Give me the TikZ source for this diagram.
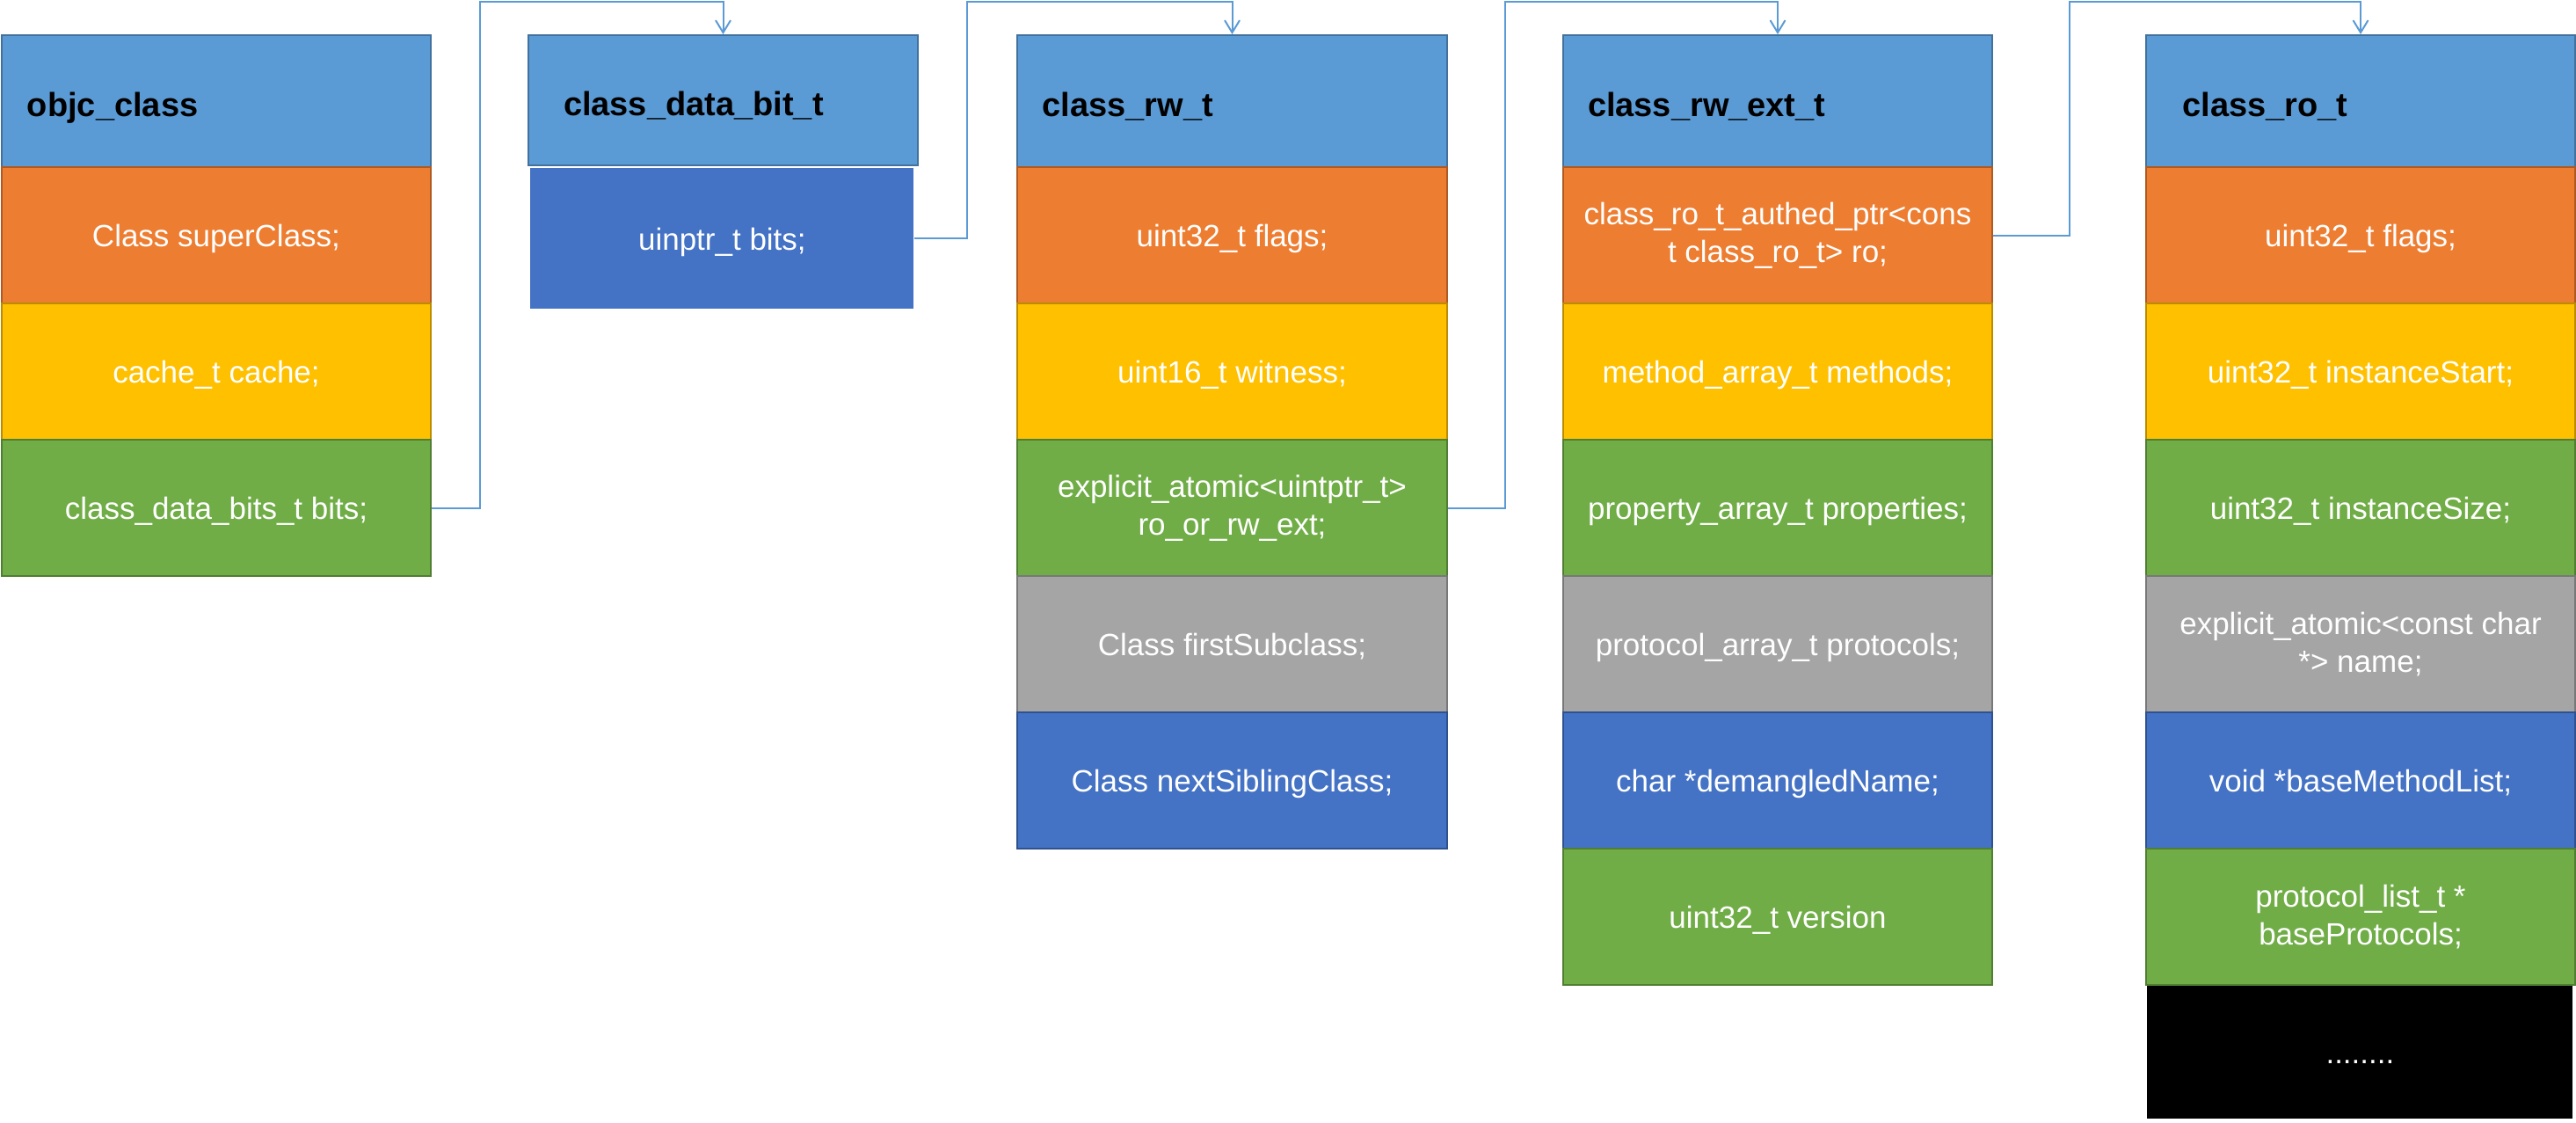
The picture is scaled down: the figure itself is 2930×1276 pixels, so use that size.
\documentclass[tikz,border=0pt]{standalone}
\usepackage{fontspec}
\setmainfont{Liberation Sans}
\usetikzlibrary{arrows.meta}
\definecolor{hdr}{HTML}{5B9BD5}
\definecolor{hdrB}{HTML}{41719C}
\definecolor{corg}{HTML}{ED7D31}
\definecolor{corgB}{HTML}{AE5A21}
\definecolor{cyel}{HTML}{FFC000}
\definecolor{cyelB}{HTML}{BC8C00}
\definecolor{cgrn}{HTML}{70AD47}
\definecolor{cgrnB}{HTML}{507E32}
\definecolor{cgry}{HTML}{A5A5A5}
\definecolor{cgryB}{HTML}{787878}
\definecolor{cblu}{HTML}{4472C4}
\definecolor{cbluB}{HTML}{2F528F}
\definecolor{lnc}{HTML}{5B9BD5}
\newcommand{\bodyfnt}{\fontsize{17.5}{21.5}\selectfont}
\tikzset{
  cellbox/.style={anchor=north west, inner sep=0pt, line width=1pt, text=white,
    font=\bodyfnt, align=center, minimum height=77.5pt},
  sl/.style={text height=14pt, text depth=1.4pt},
  hdrbox/.style={anchor=north west, inner ysep=0pt, line width=1pt, fill=hdr, draw=hdrB,
    text=black, font=\fontsize{19}{22}\selectfont\bfseries, align=left,
    minimum height=75pt, text height=17pt, text depth=0pt},
  org/.style={cellbox, fill=corg, draw=corgB},
  yel/.style={cellbox, fill=cyel, draw=cyelB},
  grn/.style={cellbox, fill=cgrn, draw=cgrnB},
  gry/.style={cellbox, fill=cgry, draw=cgryB},
  blu/.style={cellbox, fill=cblu, draw=cbluB},
  conn/.style={draw=lnc, line width=1pt, -{Straight Barb[length=7pt,width=8.5pt]}}
}
\begin{document}
\begin{tikzpicture}[x=0.5pt,y=-0.5pt]
\useasboundingbox (0,0) rectangle (2930,1276);
\coordinate (top) at (0,2);

% column 1
\begin{scope}[every node/.append style={minimum width=244pt}]
\node[hdrbox, minimum width=0pt, inner xsep=14.5pt, text width=215pt] (h1) at (1,39) {objc\_class};
\node[org, sl] (c1o) at (1,189) {Class superClass;};
\node[yel, sl] (c1y) at (1,344) {cache\_t cache;};
\node[grn, sl] (c1g) at (1,499) {class\_data\_bits\_t bits;};
\end{scope}

% column 2
\node[hdrbox, inner xsep=20pt, text width=181.5pt, minimum height=74pt] (h2) at (600,39) {class\_data\_bit\_t};
\node[anchor=north west, inner sep=0pt, fill=cblu, text=white, font=\bodyfnt, sl,
  minimum width=218pt, minimum height=80pt] (c2b) at (603,191) {uinptr\_t bits;};

% column 3
\begin{scope}[every node/.append style={minimum width=244.5pt}]
\node[hdrbox, minimum width=0pt, inner xsep=14.25pt, text width=216pt] (h3) at (1156,39) {class\_rw\_t};
\node[org, sl] (c3o) at (1156,189) {uint32\_t flags;};
\node[yel, sl] (c3y) at (1156,344) {uint16\_t witness;};
\node[grn] (c3g) at (1156,499) {explicit\_atomic<uintptr\_t>\\ro\_or\_rw\_ext;};
\node[gry, sl] (c3r) at (1156,654) {Class firstSubclass;};
\node[blu, sl] (c3b) at (1156,809) {Class nextSiblingClass;};
\end{scope}

% column 4
\begin{scope}[every node/.append style={minimum width=244pt}]
\node[hdrbox, minimum width=0pt, inner xsep=14pt, text width=216pt] (h4) at (1777,39) {class\_rw\_ext\_t};
\node[org] (c4o) at (1777,189) {class\_ro\_t\_authed\_ptr<cons\\t class\_ro\_t> ro;};
\node[yel, sl] (c4y) at (1777,344) {method\_array\_t methods;};
\node[grn, sl] (c4g) at (1777,499) {property\_array\_t properties;};
\node[gry, sl] (c4r) at (1777,654) {protocol\_array\_t protocols;};
\node[blu, sl] (c4b) at (1777,809) {char *demangledName;};
\node[grn, sl] (c4v) at (1777,964) {uint32\_t version};
\end{scope}

% column 5
\begin{scope}[every node/.append style={minimum width=244pt}]
\node[hdrbox, minimum width=0pt, inner xsep=20.75pt, text width=202.5pt] (h5) at (2440,39) {class\_ro\_t};
\node[org, sl] (c5o) at (2440,189) {uint32\_t flags;};
\node[yel, sl] (c5y) at (2440,344) {uint32\_t instanceStart;};
\node[grn, sl] (c5g) at (2440,499) {uint32\_t instanceSize;};
\node[gry] (c5r) at (2440,654) {explicit\_atomic<const char\\*> name;};
\node[blu, sl] (c5b) at (2440,809) {void *baseMethodList;};
\node[grn] (c5v) at (2440,964) {protocol\_list\_t *\\baseProtocols;};
\end{scope}
\node[anchor=north west, inner sep=0pt, fill=black, text=white, font=\bodyfnt, sl,
  minimum width=242pt, minimum height=75.5pt] (c5k) at (2442,1121) {........};

% connectors
\draw[conn] (c1g.east) -- ++(55,0) |- (top -| h2.north) -- (h2.north);
\draw[conn] (c2b.east) -- ++(60,0) |- (top -| h3.north) -- (h3.north);
\draw[conn] (c3g.east) -- ++(65,0) |- (top -| h4.north) -- (h4.north);
\draw[conn] (c4o.east) -- ++(87,0) |- (top -| h5.north) -- (h5.north);
\end{tikzpicture}
\end{document}
